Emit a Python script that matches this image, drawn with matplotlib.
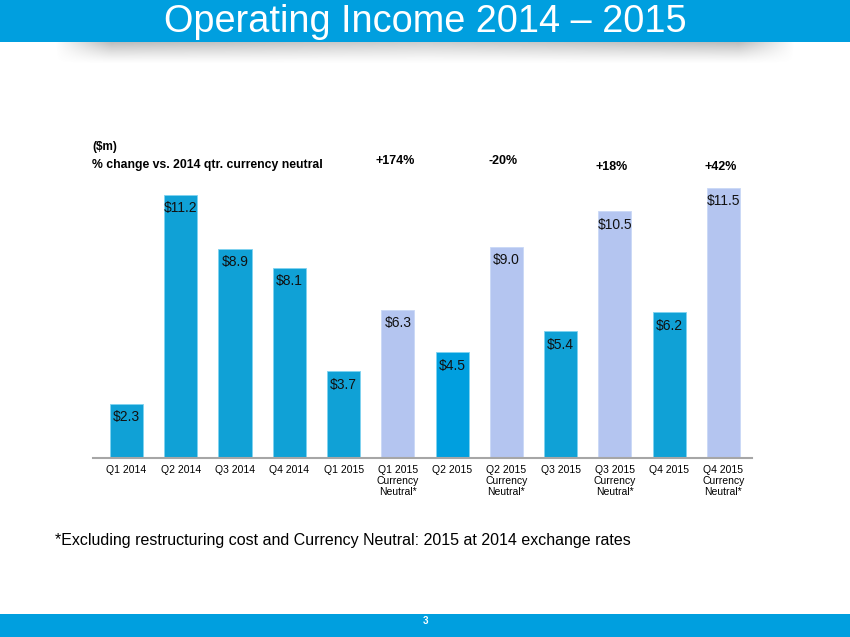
import matplotlib
matplotlib.use("Agg")
import matplotlib.pyplot as plt
import numpy as np
from matplotlib.patches import Rectangle

plt.rcParams['font.family'] = ['Liberation Sans', 'DejaVu Sans']

categories = ["Q1 2014", "Q2 2014", "Q3 2014", "Q4 2014", "Q1 2015",
              "Q1 2015\nCurrency\nNeutral*", "Q2 2015",
              "Q2 2015\nCurrency\nNeutral*", "Q3 2015",
              "Q3 2015\nCurrency\nNeutral*", "Q4 2015",
              "Q4 2015\nCurrency\nNeutral*"]
values = [2.3, 11.2, 8.9, 8.1, 3.7, 6.3, 4.5, 9.0, 5.4, 10.5, 6.2, 11.5]
currency_neutral = [False, False, False, False, False, True, False, True,
                    False, True, False, True]
pct_labels = ["+174%", "-20%", "+18%", "+42%"]
pct_index = [5, 7, 9, 11]

W, H = 850, 637
fig = plt.figure(figsize=(W / 100, H / 100), dpi=100)
fig.patch.set_facecolor("white")

def fx(px):
    return px / W

def fy(py):
    return 1 - py / H

# Title bar
bg = fig.add_axes([0, 0, 1, 1], zorder=0)
bg.set_xlim(0, W)
bg.set_ylim(H, 0)
bg.axis("off")
bg.add_patch(Rectangle((0, 0), W, 42, color="#009FDF", lw=0))
# shadow under the title bar
xs = np.linspace(0, 1, 400)
ys = np.linspace(0, 1, 40)
X, Y = np.meshgrid(xs, ys)
d = np.abs(X - 0.5) * 2
edge = np.clip((1 - d) / 0.15, 0, 1) * (0.7 + 0.3 * d)
shade = (1 - Y) ** 1.3 * edge * 0.55
img = np.ones((40, 400, 4))
img[..., :3] = 0.5
img[..., 3] = shade
bg.imshow(img, extent=(55, 795, 64, 42), aspect="auto", interpolation="bilinear")
bg.add_patch(Rectangle((0, 614), W, H - 614, color="#009FDF", lw=0))
bg.text(W / 2, 32, "Operating Income 2014 \u2013 2015", color="white",
        fontsize=27.3, ha="center", va="baseline")
bg.text(W / 2, 621, "3", color="white", fontsize=7, ha="center", va="center",
        fontweight="bold")
bg.text(92, 147, "($m)", fontsize=8.5, fontweight="bold", ha="left", va="center")
bg.text(92, 165, "% change vs. 2014 qtr. currency neutral", fontsize=8.8,
        fontweight="bold", ha="left", va="center")
bg.text(55, 541, "*Excluding restructuring cost and Currency Neutral: 2015 at 2014 exchange rates",
        fontsize=11.5, ha="left", va="center")

# Chart axes
left_px, right_px, top_px, base_px = 93, 752, 130, 458
c0, step = 126.5, 54.27
ax = fig.add_axes([fx(left_px), fy(base_px), fx(right_px - left_px),
                   (base_px - top_px) / H], zorder=1)
ax.patch.set_alpha(0)
x = np.arange(len(values))
ax.set_xlim((left_px - c0) / step, (right_px - c0) / step)
ax.set_ylim(0, (base_px - top_px) / 23.5)

dark = "#10A1D6"
light = "#B4C5F0"
colors = [light if cn else dark for cn in currency_neutral]
colors[6] = "#009FDF"
edges = ["#C9D8F6" if cn else "#7FD3F0" for cn in currency_neutral]
ax.bar(x, values, width=0.61, color=colors, edgecolor=edges, linewidth=0.6)

for xi, v in zip(x, values):
    ax.annotate(f"${v:.1f}", (xi, v), xytext=(0, -13.5), textcoords="offset pixels",
                ha="center", va="center", fontsize=10, color="#111111")

for lab, i in zip(pct_labels, pct_index):
    ypx = 161 if i < 9 else 167
    bg.text(c0 + step * i - 3, ypx, lab, fontsize=9, fontweight="bold",
            ha="center", va="center")

ax.set_xticks(x)
ax.set_xticklabels(categories, fontsize=7.5, linespacing=1.1)
ax.tick_params(axis="x", length=0, pad=5)
ax.set_yticks([])
for s in ["top", "right", "left"]:
    ax.spines[s].set_visible(False)
ax.spines["bottom"].set_color("#A6A6A6")
ax.spines["bottom"].set_linewidth(1.5)

fig.savefig("out.png", dpi=100)
